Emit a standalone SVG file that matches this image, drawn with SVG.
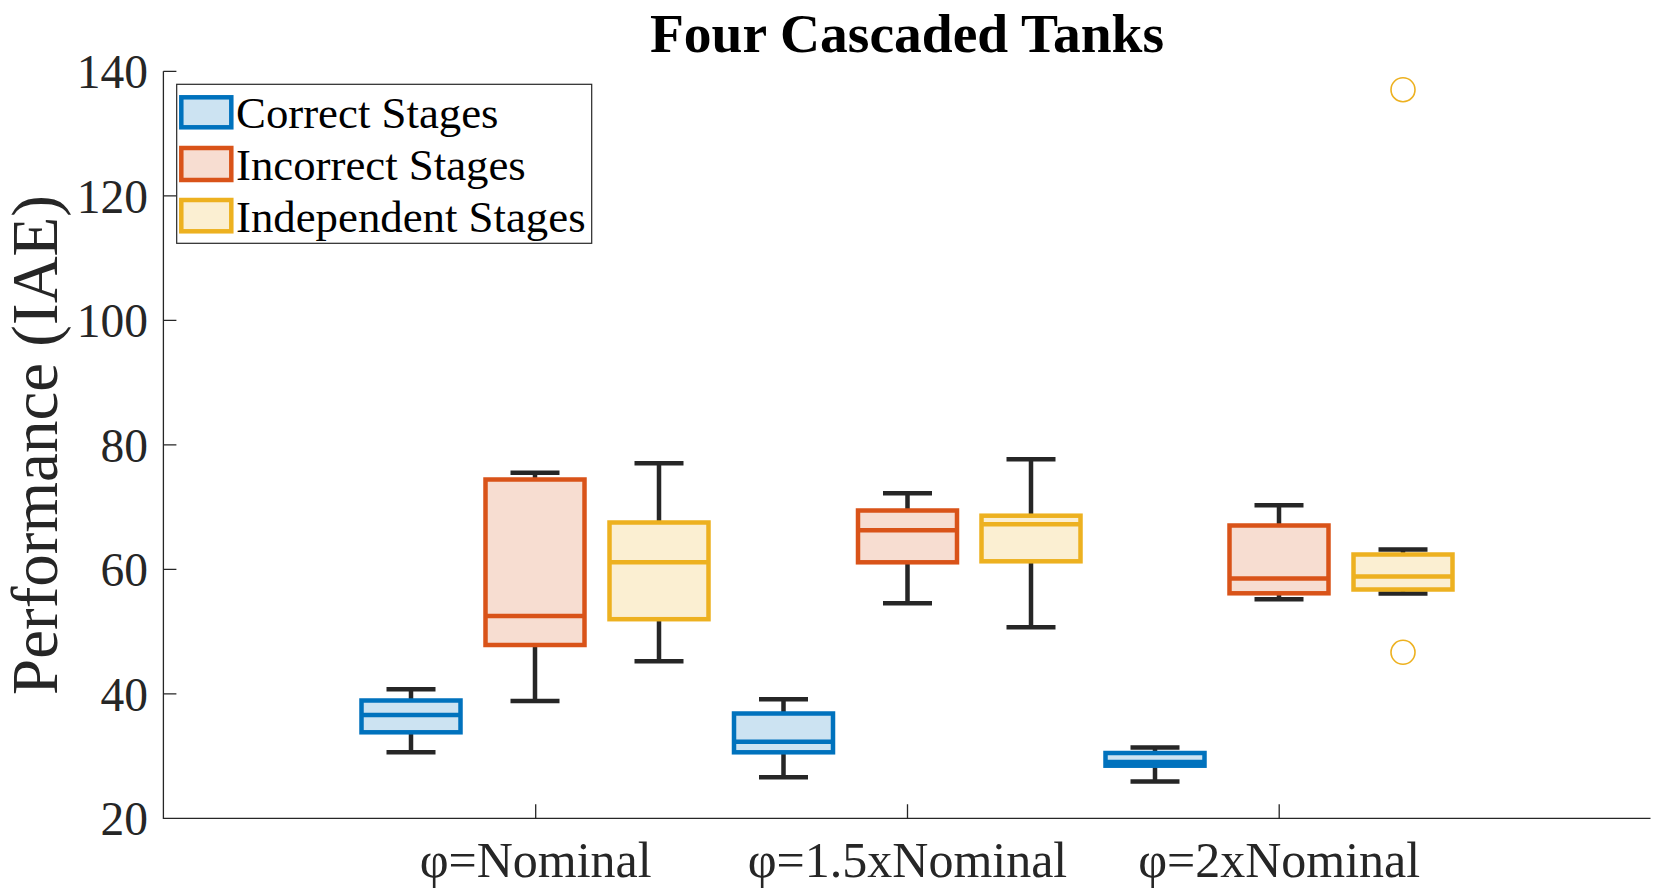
<svg xmlns="http://www.w3.org/2000/svg" width="1680" height="894" viewBox="0 0 1680 894">
<style>
.ax{stroke:#262626;stroke-width:1.3;fill:none}
.tl{font-family:"Liberation Serif","Times New Roman",serif;font-size:47.5px;fill:#262626;text-anchor:end}
.xl{font-family:"Liberation Serif","Times New Roman",serif;font-size:50px;fill:#262626;text-anchor:middle}
.lg{font-family:"Liberation Serif","Times New Roman",serif;font-size:44.8px;fill:#000}
.wh{stroke:#262626;stroke-width:4.5;fill:none}
.b1{stroke:#0072BD;fill:#CCE3F2;stroke-width:4.5}
.b2{stroke:#D95319;fill:#F7DDD1;stroke-width:4.5}
.b3{stroke:#EDB120;fill:#FBEFD2;stroke-width:4.5}
.m1{stroke:#0072BD;stroke-width:4.5}
.m2{stroke:#D95319;stroke-width:4.5}
.m3{stroke:#EDB120;stroke-width:4.5}
.out{fill:none;stroke:#EDB120;stroke-width:1.6}
</style>
<rect width="1680" height="894" fill="#fff"/>
<text x="907" y="52" font-family="Liberation Serif,'Times New Roman',serif" font-weight="bold" font-size="55.5" text-anchor="middle" fill="#000">Four Cascaded Tanks</text>
<g id="axes">
<path class="ax" d="M163.4 71.3V818.3H1650.5"/>
<path class="ax" d="M163.4 71.3h13M163.4 195.8h13M163.4 320.3h13M163.4 444.8h13M163.4 569.3h13M163.4 693.8h13M535.7 818.3v-14M907.5 818.3v-14M1279.2 818.3v-14"/>
<text class="tl" x="148" y="88.3">140</text>
<text class="tl" x="148" y="212.8">120</text>
<text class="tl" x="148" y="337.3">100</text>
<text class="tl" x="148" y="461.8">80</text>
<text class="tl" x="148" y="586.3">60</text>
<text class="tl" x="148" y="710.8">40</text>
<text class="tl" x="148" y="835.3">20</text>
<text class="xl" x="535.7" y="877.3">φ=Nominal</text>
<text class="xl" x="907.5" y="877.3">φ=1.5xNominal</text>
<text class="xl" x="1279.2" y="877.3">φ=2xNominal</text>
<text font-family="Liberation Serif,'Times New Roman',serif" font-size="65" fill="#262626" text-anchor="middle" transform="translate(57 445) rotate(-90)">Performance (IAE)</text>
</g>
<g id="connectors">
<path class="wh" d="M411 689.3V752.3M386.5 689.3h49M386.5 752.3h49"/>
<path class="wh" d="M535 472.7V701M510.5 472.7h49M510.5 701h49"/>
<path class="wh" d="M659 463.3V661.3M634.5 463.3h49M634.5 661.3h49"/>
<path class="wh" d="M783.5 699.3V777.3M759 699.3h49M759 777.3h49"/>
<path class="wh" d="M907.5 493.3V603.3M883 493.3h49M883 603.3h49"/>
<path class="wh" d="M1031 459.3V627.3M1006.5 459.3h49M1006.5 627.3h49"/>
<path class="wh" d="M1155 747.5V781.5M1130.5 747.5h49M1130.5 781.5h49"/>
<path class="wh" d="M1279 505.3V599.3M1254.5 505.3h49M1254.5 599.3h49"/>
<path class="wh" d="M1403 549.5V593.5M1378.5 549.5h49M1378.5 593.5h49"/>
</g>
<g id="box-correct-nominal"><rect class="b1" x="361.5" y="700.5" width="99" height="31.8"/><line class="m1" x1="361.5" x2="460.5" y1="715" y2="715"/></g>
<g id="box-incorrect-nominal"><rect class="b2" x="485.5" y="479.5" width="99" height="165.5"/><line class="m2" x1="485.5" x2="584.5" y1="616" y2="616"/></g>
<g id="box-independent-nominal"><rect class="b3" x="609.5" y="522.5" width="99" height="96.7"/><line class="m3" x1="609.5" x2="708.5" y1="562.3" y2="562.3"/></g>
<g id="box-correct-1.5x"><rect class="b1" x="734" y="713.5" width="99" height="38.8"/><line class="m1" x1="734" x2="833" y1="741.7" y2="741.7"/></g>
<g id="box-incorrect-1.5x"><rect class="b2" x="858" y="510.5" width="99" height="51.8"/><line class="m2" x1="858" x2="957" y1="530.3" y2="530.3"/></g>
<g id="box-independent-1.5x"><rect class="b3" x="981.5" y="515.7" width="99" height="45.6"/><line class="m3" x1="981.5" x2="1080.5" y1="524.3" y2="524.3"/></g>
<g id="box-correct-2x"><rect class="b1" x="1105.5" y="753" width="99" height="12.7"/><line class="m1" x1="1105.5" x2="1204.5" y1="762" y2="762"/></g>
<g id="box-incorrect-2x"><rect class="b2" x="1229.5" y="525.5" width="99" height="67.8"/><line class="m2" x1="1229.5" x2="1328.5" y1="578.5" y2="578.5"/></g>
<g id="box-independent-2x"><rect class="b3" x="1353.5" y="554.5" width="99" height="35"/><line class="m3" x1="1353.5" x2="1452.5" y1="576.5" y2="576.5"/></g>
<g id="outliers"><circle class="out" cx="1403" cy="89.7" r="12"/><circle class="out" cx="1403" cy="652.3" r="12"/></g>
<g id="legend">
<rect x="176.7" y="84.3" width="415" height="159" fill="#fff" stroke="#262626" stroke-width="1.2"/>
<rect class="b1" x="181.3" y="97.3" width="50" height="30" stroke-width="4"/>
<rect class="b2" x="181.3" y="148" width="50" height="32" stroke-width="4"/>
<rect class="b3" x="181.3" y="200" width="50" height="31.3" stroke-width="4"/>
<text class="lg" x="236" y="127.7">Correct Stages</text>
<text class="lg" x="236" y="180">Incorrect Stages</text>
<text class="lg" x="236" y="232">Independent Stages</text>
</g>
</svg>
